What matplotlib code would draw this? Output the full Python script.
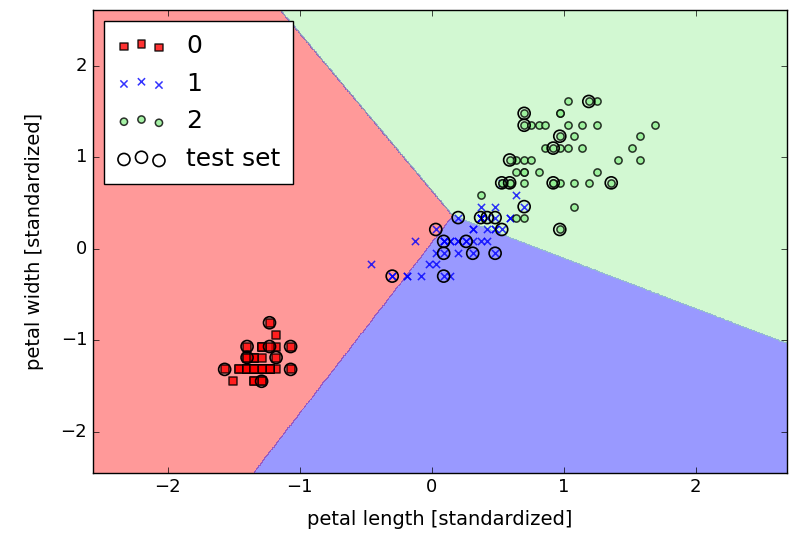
import numpy as np
import matplotlib
matplotlib.use('Agg')
import matplotlib.pyplot as plt
from matplotlib.colors import ListedColormap

# standardized petal length / width, per class
x0 = [-1.35, -1.35, -1.40, -1.29, -1.35, -1.18, -1.35, -1.29, -1.35, -1.29,
      -1.29, -1.23, -1.35, -1.51, -1.46, -1.29, -1.40, -1.35, -1.18, -1.29,
      -1.18, -1.29, -1.57, -1.18, -1.07, -1.23, -1.23, -1.29, -1.35, -1.23,
      -1.23, -1.29, -1.29, -1.35, -1.29, -1.46, -1.40, -1.35, -1.40, -1.29,
      -1.40, -1.40, -1.40, -1.23, -1.07, -1.35, -1.23, -1.35, -1.29, -1.35]
y0 = [-1.32, -1.32, -1.32, -1.32, -1.32, -1.07, -1.19, -1.32, -1.32, -1.45,
      -1.32, -1.32, -1.45, -1.45, -1.32, -1.07, -1.07, -1.19, -1.19, -1.19,
      -1.32, -1.07, -1.32, -0.94, -1.32, -1.32, -1.07, -1.32, -1.32, -1.32,
      -1.32, -1.07, -1.45, -1.32, -1.32, -1.32, -1.32, -1.45, -1.32, -1.32,
      -1.19, -1.19, -1.32, -0.81, -1.07, -1.19, -1.32, -1.32, -1.32, -1.32]

x1 = [0.48, 0.37, 0.59, 0.09, 0.42, 0.37, 0.48, -0.30, 0.42, 0.03,
      -0.19, 0.20, 0.09, 0.48, -0.13, 0.31, 0.37, 0.14, 0.37, 0.03,
      0.53, 0.09, 0.59, 0.48, 0.26, 0.31, 0.53, 0.64, 0.37, -0.19,
      -0.02, -0.08, 0.03, 0.70, 0.37, 0.37, 0.48, 0.31, 0.14, 0.09,
      0.31, 0.42, 0.09, -0.30, 0.20, 0.20, 0.20, 0.26, -0.46, 0.14]
y1 = [0.21, 0.34, 0.34, 0.08, 0.34, 0.08, 0.46, -0.30, 0.08, 0.21,
      -0.30, 0.34, -0.30, 0.21, 0.08, 0.21, 0.34, -0.30, 0.34, -0.17,
      0.72, 0.08, 0.34, -0.05, 0.08, 0.21, 0.21, 0.59, 0.34, -0.30,
      -0.17, -0.30, -0.05, 0.46, 0.34, 0.46, 0.34, 0.08, 0.08, 0.08,
      -0.05, 0.21, -0.05, -0.30, 0.08, -0.05, 0.08, 0.08, -0.17, 0.08]

x2 = [1.19, 0.70, 1.14, 0.97, 1.08, 1.52, 0.37, 1.36, 1.08, 1.25,
      0.70, 0.81, 0.92, 0.64, 0.70, 0.81, 0.92, 1.58, 1.69, 0.64,
      1.03, 0.59, 1.58, 0.59, 1.03, 1.19, 0.53, 0.59, 0.97, 1.08,
      1.25, 1.41, 0.97, 0.70, 0.97, 1.25, 0.97, 0.92, 0.53, 0.86,
      0.97, 0.70, 0.70, 1.14, 1.03, 0.75, 0.64, 0.75, 0.86, 0.70]
y2 = [1.61, 0.84, 1.10, 0.72, 1.23, 1.10, 0.59, 0.72, 0.72, 1.61,
      0.97, 0.84, 1.10, 0.97, 1.48, 1.35, 0.72, 1.23, 1.35, 0.34,
      1.35, 0.97, 0.97, 0.72, 1.10, 0.72, 0.72, 0.72, 1.10, 0.46,
      0.84, 0.97, 1.23, 0.34, 0.21, 1.35, 1.48, 0.72, 0.72, 1.10,
      1.48, 1.35, 0.84, 1.35, 1.61, 1.35, 0.84, 0.97, 1.35, 0.72]

# test samples (circled)
test_x = [-1.23, -1.40, -1.23, -1.07, -1.40, -1.18, -1.57, -1.07, -1.29,
          -0.30, 0.03, 0.09, 0.09, 0.26, 0.31, 0.48, 0.09, 0.20, 0.37,
          0.42, 0.48, 0.53, 0.70,
          1.19, 0.70, 0.70, 0.97, 0.92, 0.59, 0.53, 0.59, 0.92, 1.36, 0.97]
test_y = [-0.81, -1.07, -1.07, -1.07, -1.19, -1.19, -1.32, -1.32, -1.45,
          -0.30, 0.21, 0.08, -0.05, 0.08, -0.05, -0.05, -0.30, 0.34, 0.34,
          0.34, 0.34, 0.21, 0.46,
          1.61, 1.48, 1.35, 1.23, 1.10, 0.97, 0.72, 0.72, 0.72, 0.72, 0.21]

# linear decision functions (weights, bias) for classes 0, 1, 2
weights = np.array([[-2.249, -1.307], [-1.070, -1.940], [0.0, 0.0]])
bias = np.array([0.830, 0.870, 0.0])

labels = ['0', '1', '2']
colors = ['red', 'blue', 'lightgreen']

plt.style.use('classic')
plt.rcParams['xtick.labelsize'] = 13
plt.rcParams['ytick.labelsize'] = 13
plt.rcParams['axes.labelsize'] = 14

fig = plt.figure(figsize=(7.89, 5.33), dpi=100, facecolor='white')
ax = fig.add_axes([0.1175, 0.1131, 0.8796, 0.8681])

all_x = np.array(x0 + x1 + x2)
all_y = np.array(y0 + y1 + y2)
x_min, x_max = all_x.min() - 1, all_x.max() + 1
y_min, y_max = all_y.min() - 1, all_y.max() + 1
xx1, xx2 = np.meshgrid(np.linspace(x_min, x_max, 600),
                       np.linspace(y_min, y_max, 600))
scores = (weights[:, 0, None, None] * xx1 + weights[:, 1, None, None] * xx2
          + bias[:, None, None])
Z = scores.argmax(axis=0)

cmap = ListedColormap(colors)
ax.contourf(xx1, xx2, Z, levels=[-0.5, 0.5, 1.5, 2.5], alpha=0.4, cmap=cmap)
ax.set_xlim(x_min, x_max)
ax.set_ylim(y_min, y_max)

ax.scatter(x0, y0, s=27, c='red', marker='s', edgecolors='black',
           linewidths=1.1, alpha=0.8, label=labels[0])
ax.scatter(x1, y1, s=27, c='blue', marker='x', linewidths=1.1,
           alpha=0.8, label=labels[1])
ax.scatter(x2, y2, s=27, c='lightgreen', marker='o', edgecolors='black',
           linewidths=1.1, alpha=0.8, label=labels[2])
ax.scatter(test_x, test_y, s=75, facecolors='none', edgecolors='black',
           linewidths=1.2, marker='o', alpha=1.0, label='test set')

ax.set_xlabel('petal length [standardized]', labelpad=10)
ax.set_ylabel('petal width [standardized]', labelpad=12)
ax.legend(loc='upper left', fontsize=18, borderaxespad=0.45,
          labelspacing=0.55, borderpad=0.5)

fig.savefig('out.png', dpi=100, facecolor='white')
